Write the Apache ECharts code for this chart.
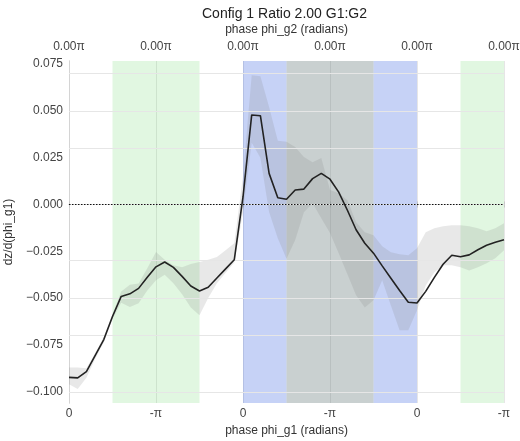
<!DOCTYPE html>
<html>
<head>
<meta charset="utf-8">
<script src="https://cdn.jsdelivr.net/npm/echarts@6/dist/echarts.min.js"></script>
<style>
  html, body { margin: 0; padding: 0; background: #fff; }
  #chart { width: 520px; height: 441px; }
</style>
</head>
<body>
<div id="chart"></div>
<script>
// Phase sample index along phi_g1 (51 samples, ticks every 10)
const phaseSteps = [0,1,2,3,4,5,6,7,8,9,10,11,12,13,14,15,16,17,18,19,20,21,22,23,24,25,26,27,28,29,30,31,32,33,34,35,36,37,38,39,40,41,42,43,44,45,46,47,48,49,50];

// Mean dz/d(phi_g1)
const meanSlope = [-0.0923,-0.0926,-0.0892,-0.0807,-0.0721,-0.0598,-0.0491,-0.0477,-0.0448,-0.0389,
  -0.0333,-0.0307,-0.0336,-0.0384,-0.0435,-0.0462,-0.0442,-0.0393,-0.0344,-0.0295,
  0.0040,0.0478,0.0474,0.0166,0.0036,0.0028,0.0077,0.0082,0.0138,0.0166,
  0.0135,0.0066,-0.0031,-0.0135,-0.0207,-0.0260,-0.0328,-0.0394,-0.0459,-0.0522,
  -0.0526,-0.0464,-0.0389,-0.0319,-0.0271,-0.0279,-0.0269,-0.0242,-0.0218,-0.0202,-0.0188];

// Spread envelope (lower / upper)
const bandLow = [-0.0960,-0.0985,-0.0925,-0.0825,-0.0735,-0.0612,-0.0525,-0.0548,-0.0528,-0.0460,
  -0.0405,-0.0375,-0.0420,-0.0480,-0.0550,-0.0592,-0.0500,-0.0420,-0.0365,-0.0310,
  -0.0040,0.0330,0.0250,-0.0040,-0.0180,-0.0290,-0.0190,-0.0041,0.0007,-0.0073,
  -0.0153,-0.0260,-0.0373,-0.0485,-0.0550,-0.0512,-0.0405,-0.0539,-0.0672,-0.0672,
  -0.0565,-0.0432,-0.0362,-0.0325,-0.0325,-0.0335,-0.0352,-0.0335,-0.0314,-0.0287,-0.0245];
const bandHigh = [-0.0870,-0.0870,-0.0875,-0.0795,-0.0708,-0.0585,-0.0465,-0.0428,-0.0422,-0.0340,
  -0.0254,-0.0295,-0.0325,-0.0335,-0.0318,-0.0307,-0.0295,-0.0280,-0.0245,-0.0207,
  0.0150,0.0690,0.0685,0.0520,0.0340,0.0335,0.0307,0.0253,0.0226,0.0248,
  0.0077,0.0060,0.0023,-0.0095,-0.0148,-0.0164,-0.0223,-0.0255,-0.0266,-0.0271,
  -0.0234,-0.0148,-0.0127,-0.0116,-0.0111,-0.0111,-0.0116,-0.0127,-0.0143,-0.0127,-0.0100];

// Tick labels
const bottomTickLabels = ['0', '-\u03c0', '0', '-\u03c0', '0', '-\u03c0'];
const topTickLabels = ['0.00\u03c0', '0.00\u03c0', '0.00\u03c0', '0.00\u03c0', '0.00\u03c0', '0.00\u03c0'];
const yTicks = [-0.100, -0.075, -0.050, -0.025, 0.000, 0.025, 0.050, 0.075];

// Shaded phase windows [start, end]
const greenWindows = [[5, 15], [45, 50]];
const blueWindows = [[20, 25], [35, 40]];
const grayWindows = [[25, 35]];

const X_MIN = 0, X_MAX = 50, Y_MIN = -0.106, Y_MAX = 0.0766;
const FONT = 'Liberation Sans, Arial, sans-serif';

const pair = (arr) => phaseSteps.map((x, i) => [x, arr[i]]);
const bandData = phaseSteps.map((x, i) => [x, bandLow[i], bandHigh[i]]);

const windowAreas = (wins, color) => wins.map(w => [
  { xAxis: w[0], itemStyle: { color: color } },
  { xAxis: w[1] }
]);

// Whole envelope drawn as one polygon: upper edge forward, lower edge back
function renderBand(params, api) {
  if (params.dataIndex !== 0) return null;
  const upper = bandData.map(d => api.coord([d[0], d[2]]));
  const lower = bandData.map(d => api.coord([d[0], d[1]])).reverse();
  return {
    type: 'polygon',
    shape: { points: upper.concat(lower) },
    style: { fill: 'rgba(128,128,128,0.18)', stroke: 'none' },
    silent: true
  };
}

const chart = echarts.init(document.getElementById('chart'), null, { renderer: 'canvas' });

const gridLine = { show: true, lineStyle: { color: '#e6e6e6', width: 1 } };

chart.setOption({
  animation: false,
  backgroundColor: '#ffffff',
  textStyle: { fontFamily: FONT },
  title: {
    text: 'Config 1 Ratio 2.00 G1:G2',
    left: 197, top: 2,
    textStyle: { fontSize: 14, fontWeight: 'normal', color: '#222', fontFamily: FONT }
  },
  grid: { left: 69, right: 16, top: 61, bottom: 38, outerBoundsMode: 'none', containLabel: false },
  xAxis: [
    {
      type: 'value', position: 'bottom', min: X_MIN, max: X_MAX, interval: 10,
      name: 'phase phi_g1 (radians)', nameLocation: 'middle', nameGap: 21,
      nameTextStyle: { fontSize: 12, color: '#333', fontFamily: FONT },
      axisLine: { show: true, lineStyle: { color: '#d4d4d4' } },
      axisTick: { show: true, length: 3, lineStyle: { color: '#c8c8c8' } },
      axisLabel: { fontSize: 12, color: '#444', margin: 5, fontFamily: FONT,
        formatter: v => bottomTickLabels[Math.round(v / 10)] },
      splitLine: gridLine
    },
    {
      type: 'value', position: 'top', min: X_MIN, max: X_MAX, interval: 10,
      name: 'phase phi_g2 (radians)', nameLocation: 'middle', nameGap: 20,
      nameTextStyle: { fontSize: 12, color: '#333', fontFamily: FONT },
      axisLine: { show: true, lineStyle: { color: '#d4d4d4' } },
      axisTick: { show: true, length: 3, lineStyle: { color: '#c8c8c8' } },
      axisLabel: { fontSize: 12, color: '#444', margin: 8, fontFamily: FONT,
        formatter: v => topTickLabels[Math.round(v / 10)] },
      splitLine: { show: false }
    }
  ],
  yAxis: [
    {
      type: 'value', min: Y_MIN, max: Y_MAX,
      name: 'dz/d(phi_g1)', nameLocation: 'middle', nameGap: 50,
      nameTextStyle: { fontSize: 12, color: '#333', fontFamily: FONT },
      axisLine: { show: true, lineStyle: { color: '#d4d4d4' } },
      axisTick: { show: false, customValues: yTicks },
      axisLabel: { fontSize: 12, color: '#444', margin: 6, fontFamily: FONT,
        customValues: yTicks,
        formatter: v => (v < 0 ? '\u2212' : '') + Math.abs(v).toFixed(3) },
      splitLine: { show: false }
    },
    {
      type: 'value', position: 'right', min: Y_MIN, max: Y_MAX,
      axisLine: { show: true, lineStyle: { color: '#d4d4d4' } },
      axisTick: { show: false }, axisLabel: { show: false }, splitLine: { show: false }
    }
  ],
  series: [
    {
      // phase windows and horizontal grid
      type: 'line', data: [], silent: true, z: 1,
      markArea: {
        silent: true,
        data: [].concat(
          windowAreas(greenWindows, 'rgba(120,220,120,0.22)'),
          windowAreas(blueWindows, 'rgba(65,105,225,0.30)'),
          windowAreas(grayWindows, 'rgba(100,120,120,0.35)')
        )
      },
      markLine: {
        silent: true, symbol: 'none', label: { show: false },
        lineStyle: { color: '#e6e6e6', width: 1, type: 'solid' },
        data: yTicks.map(v => ({ yAxis: v }))
      }
    },
    {
      type: 'custom', name: 'spread', data: bandData, renderItem: renderBand,
      encode: { x: 0, y: [1, 2] }, z: 3, silent: true, clip: true
    },
    {
      type: 'line', name: 'mean', data: pair(meanSlope), symbol: 'none', z: 5,
      lineStyle: { color: '#222', width: 1.6 },
      markLine: {
        silent: true, symbol: 'none', label: { show: false },
        lineStyle: { color: '#111', width: 1, type: [1.5, 1.5] },
        data: [{ yAxis: 0 }]
      }
    }
  ]
});
</script>
</body>
</html>
